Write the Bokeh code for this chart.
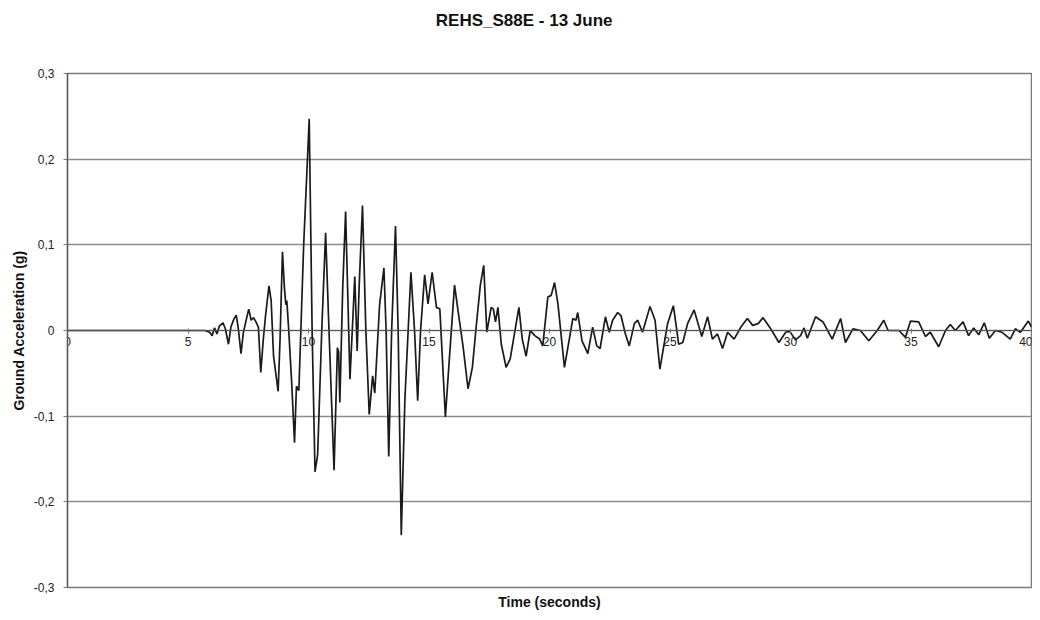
from bokeh.plotting import figure
from bokeh.models import FixedTicker, CustomJSTickFormatter, LinearAxis, Range1d
from bokeh.embed import file_html
from bokeh.resources import INLINE

title_text = "REHS_S88E - 13 June"
x_label = "Time (seconds)"
y_label = "Ground Acceleration (g)"
x_ticks = [0, 5, 10, 15, 20, 25, 30, 35, 40]
y_ticks = [-0.3, -0.2, -0.1, 0.0, 0.1, 0.2, 0.3]

time_s = [
    0, 5.7, 5.9, 6.0, 6.1, 6.2, 6.3, 6.45, 6.55, 6.68, 6.78, 6.9, 7.0, 7.08, 7.2, 7.3,
    7.42, 7.52, 7.62, 7.72, 7.82, 7.92, 8.02, 8.12, 8.22, 8.36, 8.45, 8.55, 8.74, 8.82,
    8.92, 9.0, 9.06, 9.1, 9.18, 9.3, 9.42, 9.5, 9.6, 9.8, 10.03, 10.15, 10.27, 10.38,
    10.55, 10.71, 10.85, 11.06, 11.2, 11.25, 11.3, 11.42, 11.54, 11.72, 11.85, 11.92,
    12.02, 12.1, 12.24, 12.38, 12.52, 12.66, 12.75, 12.95, 13.13, 13.22, 13.33, 13.45,
    13.61, 13.72, 13.85, 14.0, 14.25, 14.4, 14.53, 14.65, 14.82, 14.96, 15.13, 15.31,
    15.45, 15.68, 15.83, 16.06, 16.24, 16.41, 16.62, 16.80, 16.96, 17.13, 17.27, 17.40,
    17.58, 17.67, 17.76, 17.86, 18.0, 18.20, 18.37, 18.73, 18.87, 19.03, 19.20, 19.39,
    19.59, 19.72, 19.93, 20.07, 20.21, 20.35, 20.62, 20.97, 21.1, 21.17, 21.35, 21.59,
    21.79, 21.96, 22.10, 22.32, 22.48, 22.62, 22.83, 22.97, 23.15, 23.31, 23.52, 23.66,
    23.86, 24.17, 24.38, 24.58, 24.90, 25.14, 25.36, 25.53, 25.73, 26.00, 26.32, 26.56,
    26.76, 26.97, 27.18, 27.39, 27.66, 27.94, 28.21, 28.43, 28.66, 28.86, 29.18, 29.52,
    29.80, 29.97, 30.21, 30.42, 30.56, 30.70, 31.04, 31.35, 31.73, 32.08, 32.28, 32.59,
    32.9, 33.25, 33.60, 33.87, 34.05, 34.5, 34.77, 34.98, 35.32, 35.60, 35.8, 36.15,
    36.43, 36.63, 36.84, 37.16, 37.39, 37.6, 37.81, 38.04, 38.25, 38.5, 38.77, 39.12,
    39.33, 39.54, 39.87, 40.0,
]
accel_g = [
    0, 0, -0.002, -0.006, 0.003, -0.004, 0.005, 0.009, 0.002, -0.016, 0.004, 0.013, 0.018,
    0.004, -0.027, -0.002, 0.013, 0.025, 0.012, 0.015, 0.01, 0.004, -0.049, -0.012, 0.018,
    0.052, 0.035, -0.03, -0.071, -0.01, 0.092, 0.05, 0.03, 0.035, 0.0, -0.06, -0.131,
    -0.065, -0.07, 0.1, 0.247, 0.0, -0.165, -0.145, 0.0, 0.114, 0.0, -0.163, -0.02, -0.025,
    -0.084, 0.05, 0.139, -0.057, 0.02, 0.063, -0.024, 0.05, 0.146, 0.0, -0.098, -0.053,
    -0.073, 0.03, 0.073, 0.0, -0.147, 0.0, 0.122, 0.0, -0.239, -0.08, 0.068, 0.0, -0.082,
    0.0, 0.065, 0.031, 0.068, 0.027, 0.025, -0.101, -0.039, 0.053, 0.016, -0.018, -0.068,
    -0.043, 0.005, 0.053, 0.076, -0.002, 0.027, 0.025, 0.01, 0.027, -0.016, -0.043, -0.033,
    0.027, -0.01, -0.03, 0.0, -0.006, -0.01, -0.018, 0.039, 0.041, 0.056, 0.031, -0.043,
    0.014, 0.012, 0.021, -0.012, -0.027, 0.004, -0.018, -0.021, 0.016, -0.002, 0.012,
    0.021, 0.017, -0.004, -0.018, 0.008, 0.012, -0.002, 0.028, 0.012, -0.045, 0.008, 0.029,
    -0.016, -0.014, 0.008, 0.024, -0.007, 0.016, -0.01, -0.004, -0.021, -0.002, -0.01,
    0.004, 0.014, 0.006, 0.008, 0.015, 0.002, -0.014, -0.002, -0.001, -0.011, -0.006,
    0.003, -0.009, 0.016, 0.01, -0.01, 0.014, -0.014, 0.002, 0.0, -0.012, 0.0, 0.012, 0.0,
    0.0, -0.008, 0.011, 0.01, -0.007, -0.002, -0.019, 0.0, 0.007, 0.0, 0.01, -0.006, 0.003,
    -0.005, 0.009, -0.009, 0.0, -0.002, -0.01, 0.002, -0.002, 0.011, 0.004,
]

FONT = "Liberation Sans"
TITLE_X = 18.95  # horizontal anchor of the chart title (centred over the whole chart area)

p = figure(
    width=1032, height=612,
    x_range=Range1d(0, 40), y_range=Range1d(-0.3, 0.3),
    output_backend="svg", toolbar_location=None,
    min_border_left=67, min_border_right=1, min_border_top=73, min_border_bottom=25,
)

p.line(time_s, accel_g, line_color="#1a1a1a", line_width=1.7)

# grid
p.xgrid.visible = False
p.ygrid.ticker = FixedTicker(ticks=y_ticks)
p.ygrid.grid_line_color = "#8c8c8c"
p.ygrid.grid_line_width = 1.5
p.outline_line_color = "#7a7a7a"
p.outline_line_width = 1.5

# x axis crossing at zero
p.xaxis.fixed_location = 0
p.xaxis.ticker = FixedTicker(ticks=x_ticks)
p.xaxis.axis_line_color = "#555555"
p.xaxis.axis_line_width = 1.2
p.xaxis.major_tick_in = 2
p.xaxis.major_tick_out = 3
p.xaxis.major_tick_line_color = "#777777"
p.xaxis.minor_tick_line_color = None
p.xaxis.major_label_text_font = FONT
p.xaxis.major_label_text_font_size = "12px"
p.xaxis.major_label_text_color = "#222222"
p.xaxis.major_label_standoff = 3

# title: a single label on an otherwise empty top axis
title_axis = LinearAxis(
    ticker=FixedTicker(ticks=[TITLE_X]),
    formatter=CustomJSTickFormatter(args=dict(t=title_text), code="return t;"),
    axis_line_color=None, major_tick_in=0, major_tick_out=0, minor_tick_line_color=None,
    major_label_standoff=44, major_label_text_font=FONT, major_label_text_font_size="17px",
    major_label_text_font_style="bold", major_label_text_color="#111111",
)
p.add_layout(title_axis, "above")

# x-axis title below the frame
xlabel_axis = LinearAxis(
    ticker=FixedTicker(ticks=[]), axis_line_color=None,
    major_tick_in=0, major_tick_out=0, minor_tick_line_color=None,
    major_label_text_font_size="1px", axis_label=x_label, axis_label_standoff=6,
    axis_label_text_font=FONT, axis_label_text_font_size="14px",
    axis_label_text_font_style="bold", axis_label_text_color="#111111",
)
p.add_layout(xlabel_axis, "below")

# y axis
p.yaxis.ticker = FixedTicker(ticks=y_ticks)
p.yaxis.formatter = CustomJSTickFormatter(code="""
    if (Math.abs(tick) < 1e-9) { return "0"; }
    return tick.toFixed(1).replace(".", ",");
""")
p.yaxis.axis_line_color = "#555555"
p.yaxis.axis_line_width = 1.2
p.yaxis.major_tick_in = 0
p.yaxis.major_tick_out = 4
p.yaxis.major_tick_line_color = "#777777"
p.yaxis.minor_tick_line_color = None
p.yaxis.major_label_text_font = FONT
p.yaxis.major_label_text_font_size = "12px"
p.yaxis.major_label_text_color = "#222222"
p.yaxis.major_label_standoff = 9
p.yaxis.axis_label = y_label
p.yaxis.axis_label_text_font = FONT
p.yaxis.axis_label_text_font_size = "14px"
p.yaxis.axis_label_text_font_style = "bold"
p.yaxis.axis_label_text_color = "#111111"
p.yaxis.axis_label_standoff = 4

open("out.html", "w").write(file_html(p, INLINE))
